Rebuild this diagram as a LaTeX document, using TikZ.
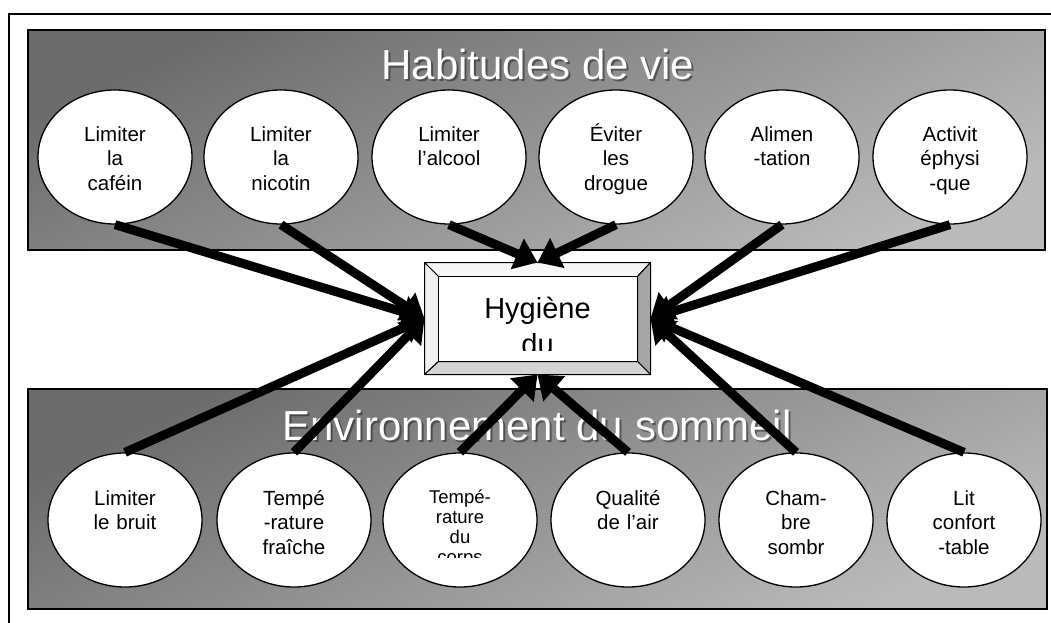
\documentclass[tikz,border=0pt]{standalone}
\usepackage{fontspec}
\setmainfont{Liberation Sans}
\usetikzlibrary{arrows.meta,shapes.geometric,calc}
\begin{document}
\begin{tikzpicture}[x=1pt,y=-1pt,
  bubble/.style={ellipse,draw,fill=white,line width=1.3pt,minimum width=154pt,minimum height=134pt,inner sep=0pt},
  btext/.style={anchor=base,align=center,text width=100pt,inner sep=0pt,font=\fontsize{20.5}{24.6}\selectfont},
  bsmall/.style={anchor=base,align=center,text width=100pt,inner sep=0pt,font=\fontsize{18.5}{20}\selectfont},
  banner/.style={draw,line width=1.3pt,shading=axis,top color=black!58,bottom color=black!27,shading angle=25},
  title/.style={anchor=base,inner sep=0pt,text=white,font=\fontsize{42}{50}\selectfont},
  tshadow/.style={anchor=base,inner sep=0pt,text=black,opacity=0.4,font=\fontsize{42}{50}\selectfont},
  flow/.style={line width=9pt,-{Triangle[length=22pt,width=32pt]}},
  face/.style={draw,line width=1pt,line join=round},
]
\useasboundingbox (0,0) rectangle (1051,623);
\fill[white] (0,0) rectangle (1051,623);
\draw[line width=1.5pt] (9,14) rectangle (1075,650);

% banners
\path[banner] (28,30) rectangle (1045,250);
\path[banner] (28,389) rectangle (1047,609);

\node[tshadow] (tts) at (540,82) {Habitudes de vie};
\node[title] (tt) at (538,80) {Habitudes de vie};
\node[tshadow] (bts) at (539,442) {Environnement du sommeil};
\node[title] (bt) at (537,440) {Environnement du sommeil};

% top bubbles
\node[bubble] (t1) at (115,157) {};
\node[bubble] (t2) at (281,157) {};
\node[bubble] (t3) at (449,157) {};
\node[bubble] (t4) at (616,157) {};
\node[bubble] (t5) at (782,157) {};
\node[bubble] (t6) at (950,157) {};
\node[btext] (t1l) at (115,141) {Limiter\\la\\caféin};
\node[btext] (t2l) at (281,141) {Limiter\\la\\nicotin};
\node[btext] (t3l) at (449,141) {Limiter\\l’alcool};
\node[btext] (t4l) at (616,141) {Éviter\\les\\drogue};
\node[btext] (t5l) at (782,141) {Alimen\\-tation};
\node[btext] (t6l) at (950,141) {Activit\\éphysi\\-que};

% bottom bubbles
\node[bubble] (b1) at (125,520) {};
\node[bubble] (b2) at (294,520) {};
\node[bubble] (b3) at (460,520) {};
\node[bubble] (b4) at (628,520) {};
\node[bubble] (b5) at (796,520) {};
\node[bubble] (b6) at (964,520) {};
\node[btext] (b1l) at (125,505) {Limiter\\le bruit};
\node[btext] (b2l) at (294,505) {Tempé\\-rature\\fraîche};
\begin{scope}
  \clip (380,480) rectangle (540,557);
  \node[bsmall] (b3l) at (460,503) {Tempé-\\rature\\du\\corps};
\end{scope}
\node[btext] (b4l) at (628,505) {Qualité\\de l’air};
\node[btext] (b5l) at (796,505) {Cham-\\bre\\sombr};
\node[btext] (b6l) at (964,505) {Lit\\confort\\-table};

% central bevelled box
\node[draw,line width=1pt,fill=white,minimum width=225pt,minimum height=111pt,inner sep=0pt] (hyg) at (537.5,318.5) {};
\coordinate (iNW) at ($(hyg.north west)+(14,14)$);
\coordinate (iNE) at ($(hyg.north east)+(-13,14)$);
\coordinate (iSE) at ($(hyg.south east)+(-13,-13)$);
\coordinate (iSW) at ($(hyg.south west)+(14,-13)$);
\path[face,fill=black!3] (hyg.north west) -- (hyg.north east) -- (iNE) -- (iNW) -- cycle;
\path[face,fill=black!6] (hyg.north west) -- (iNW) -- (iSW) -- (hyg.south west) -- cycle;
\path[face,fill=black!35] (hyg.north east) -- (hyg.south east) -- (iSE) -- (iNE) -- cycle;
\path[face,fill=black!17] (hyg.south west) -- (iSW) -- (iSE) -- (hyg.south east) -- cycle;
\path[face,fill=white] (iNW) -- (iNE) -- (iSE) -- (iSW) -- cycle;
\begin{scope}
  \clip (iNW) rectangle ($(iSE)+(0,-11)$);
  \node[anchor=base,inner sep=0pt,font=\fontsize{29}{34}\selectfont] (h1) at (537.5,318) {Hygiène};
  \node[anchor=base,inner sep=0pt,font=\fontsize{29}{34}\selectfont] (h2) at (537.5,354) {du};
\end{scope}

% connectors
\draw[flow] (t1.south) -- (hyg.west);
\draw[flow] (t2.south) -- (hyg.west);
\draw[flow] (t3.south) -- (hyg.north);
\draw[flow] (t4.south) -- (hyg.north);
\draw[flow] (t5.south) -- (hyg.east);
\draw[flow] (t6.south) -- (hyg.east);
\draw[flow] (b1.north) -- (hyg.west);
\draw[flow] (b2.north) -- (hyg.west);
\draw[flow] (b3.north) -- (hyg.south);
\draw[flow] (b4.north) -- (hyg.south);
\draw[flow] (b5.north) -- (hyg.east);
\draw[flow] (b6.north) -- (hyg.east);
\end{tikzpicture}
\end{document}
